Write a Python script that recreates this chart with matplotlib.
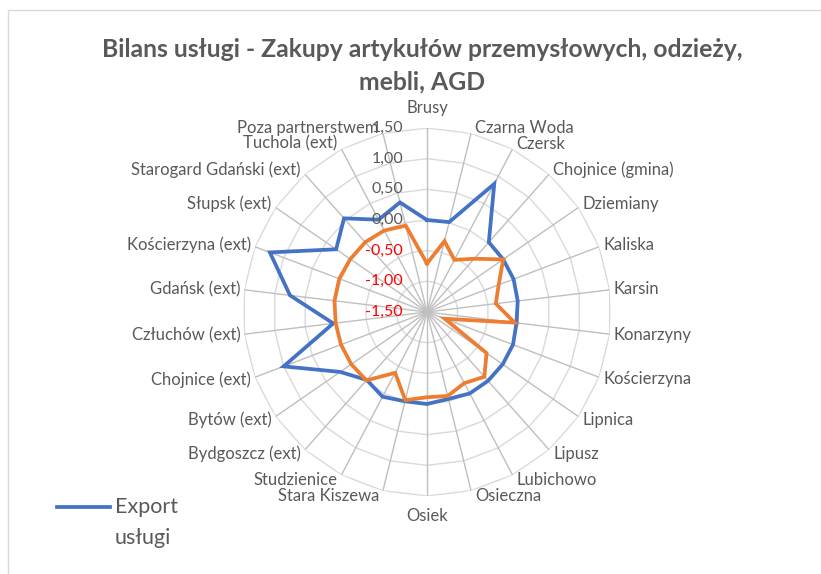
import numpy as np
import matplotlib.pyplot as plt
from matplotlib.lines import Line2D
from matplotlib.patches import Rectangle

plt.rcParams['font.family'] = ['Lato', 'DejaVu Sans']

categories = ["Brusy", "Czarna Woda", "Czersk", "Chojnice (gmina)", "Dziemiany",
              "Kaliska", "Karsin", "Konarzyny", "Kościerzyna", "Lipnica", "Lipusz",
              "Lubichowo", "Osieczna", "Osiek", "Stara Kiszewa", "Studzienice",
              "Bydgoszcz (ext)", "Bytów (ext)", "Chojnice (ext)", "Człuchów (ext)",
              "Gdańsk (ext)", "Kościerzyna (ext)", "Słupsk (ext)",
              "Starogard Gdański (ext)", "Tuchola (ext)", "Poza partnerstwem"]

export_uslugi = [0.00, 0.01, 0.86, 0.02, 0.01, 0.01, -0.01, -0.03, 0.00, 0.00, 0.00,
                 0.00, -0.04, 0.00, 0.00, 0.06, -0.02, 0.22, 1.00, 0.04, 0.75, 1.24,
                 0.30, 0.54, 0.20, 0.34]
import_uslugi = [-0.71, -0.31, -0.54, -0.34, 0.01, -0.25, -0.37, -0.06, -1.19, -0.32,
                 -0.09, -0.19, -0.09, -0.11, -0.02, -0.38, -0.01, 0.00, 0.00, 0.00,
                 0.02, 0.03, 0.02, 0.02, 0.00, -0.05]

ticks = [1.5, 1.0, 0.5, 0.0, -0.5, -1.0, -1.5]
tick_labels = ["1,50", "1,00", "0,50", "0,00", "-0,50", "-1,00", "-1,50"]

title = "Bilans usługi - Zakupy artykułów przemysłowych, odzieży,\nmebli, AGD"
grey = '#595959'

W, H = 821, 574
fig = plt.figure(figsize=(W / 100, H / 100), dpi=100)

# chart frame (only top/left visible in the crop)
fig.add_artist(Rectangle((8 / W, -0.2), 1.2, 1.2 - 10 / H, transform=fig.transFigure,
                         fill=False, edgecolor='#D9D9D9', lw=1))

cx, cy, R = 427, 312, 184
ax = fig.add_axes([(cx - R) / W, (H - cy - R) / H, 2 * R / W, 2 * R / H], projection='polar')
ax.set_theta_zero_location('N')
ax.set_theta_direction(-1)
ax.set_ylim(-1.5, 1.5)
ax.grid(False)
ax.set_xticks([])
ax.set_yticks([])
ax.spines['polar'].set_visible(False)
ax.patch.set_alpha(0)

n = len(categories)
theta = np.arange(n) * 2 * np.pi / n
theta_c = np.append(theta, theta[0])

# rings (polygons) and spokes
for v in ticks[:-1]:
    ax.plot(theta_c, [v] * (n + 1), color='#D9D9D9', lw=1, zorder=1)
for t in theta:
    ax.plot([t, t], [-1.5, 1.5], color='#BFBFBF', lw=1, zorder=1)

ax.plot(theta_c, export_uslugi + export_uslugi[:1], color='#4472C4', lw=2.7, zorder=3,
        solid_joinstyle='miter')
ax.plot(theta_c, import_uslugi + import_uslugi[:1], color='#ED7D31', lw=2.7, zorder=4,
        solid_joinstyle='miter')

# category labels
for t, name in zip(theta, categories):
    s, c = np.sin(t), np.cos(t)
    if abs(s) < 0.01:
        off, ha = (0, 20 * c), 'center'
    else:
        off = (4 * np.sign(s), 6 * c)
        ha = 'left' if s > 0 else 'right'
    ax.annotate(name, xy=(t, 1.5), xytext=off, textcoords='offset pixels',
                ha=ha, va='center', fontsize=12, color=grey, annotation_clip=False)

# radial value labels
for v, lab in zip(ticks, tick_labels):
    ax.annotate(lab, xy=(0, v), xytext=(-24, 0), textcoords='offset pixels',
                ha='right', va='center', fontsize=11.5,
                color=grey if v >= 0 else '#FF0000', zorder=5)

fig.text(422 / W, 1 - 66 / H, title, ha='center', va='center', fontsize=17.8,
         fontweight='bold', color=grey, linespacing=1.48)

# legend
fig.add_artist(Line2D([57 / W, 110 / W], [1 - 507 / H] * 2, transform=fig.transFigure,
                      color='#4472C4', lw=2.7))
fig.text(115 / W, 1 - 507 / H, "Export", ha='left', va='center', fontsize=15.5, color=grey)
fig.text(115 / W, 1 - 538 / H, "usługi", ha='left', va='center', fontsize=15.5, color=grey)

fig.savefig('out.png', dpi=100)
